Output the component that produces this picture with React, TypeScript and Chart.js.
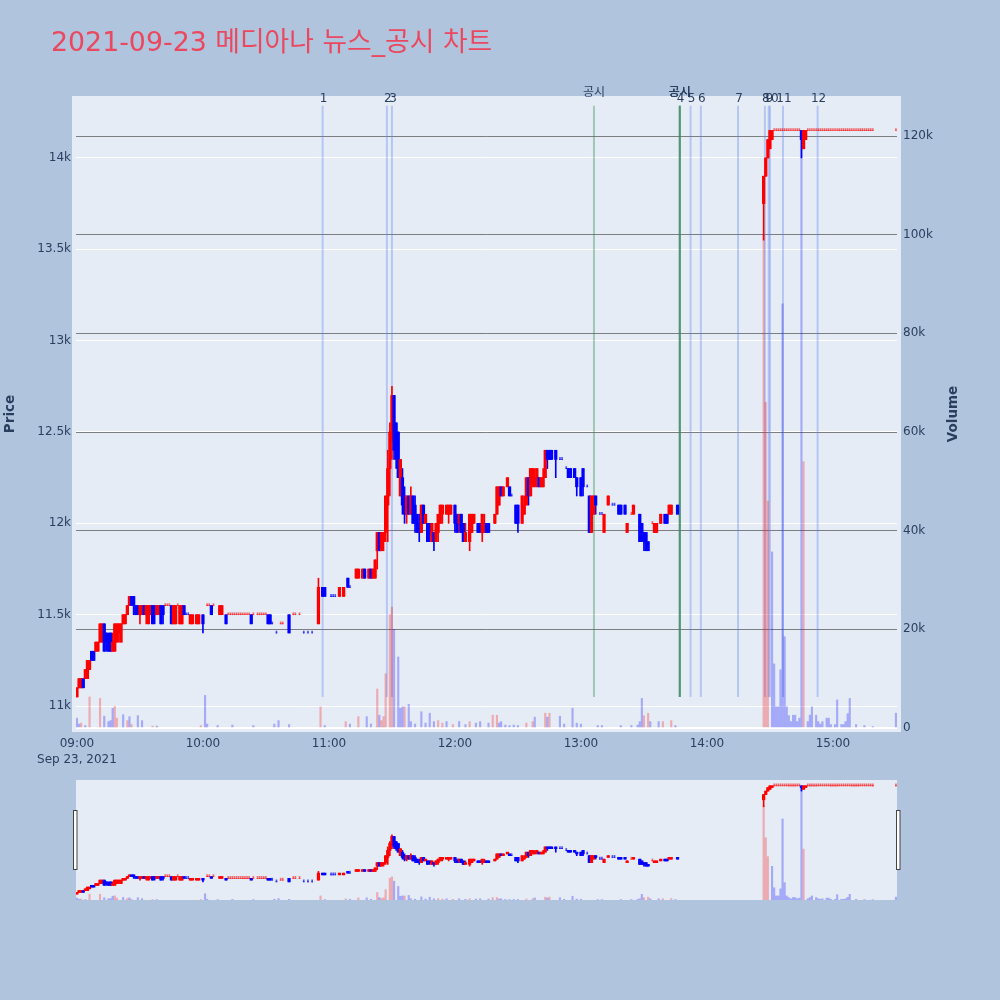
import React, { useEffect, useRef } from 'react';
import { Chart, registerables } from 'chart.js';

Chart.register(...registerables);

const chartTitle = '2021-09-23 메디아나 뉴스_공시 차트';
const dateLabel = 'Sep 23, 2021';

// candles: [minutes after 09:00, open, high, low, close]
const openingCandles = [
  [0, 11050, 11100, 11050, 11100], [1, 11100, 11150, 11100, 11150], [2, 11100, 11150, 11100, 11150],
  [3, 11150, 11150, 11100, 11100], [4, 11150, 11200, 11150, 11200], [5, 11150, 11250, 11150, 11250],
  [6, 11200, 11250, 11200, 11250], [7, 11300, 11300, 11250, 11250], [8, 11300, 11300, 11250, 11250],
  [9, 11300, 11350, 11300, 11350], [10, 11300, 11350, 11300, 11350], [11, 11350, 11450, 11350, 11450],
  [12, 11350, 11450, 11350, 11450], [13, 11450, 11450, 11300, 11300], [14, 11400, 11400, 11300, 11350],
  [15, 11350, 11400, 11300, 11300], [16, 11400, 11400, 11300, 11300], [17, 11300, 11400, 11300, 11350],
  [18, 11300, 11450, 11300, 11450], [19, 11350, 11450, 11350, 11450], [20, 11400, 11450, 11350, 11450],
  [21, 11350, 11450, 11350, 11450], [22, 11450, 11500, 11450, 11500], [23, 11450, 11500, 11450, 11500],
  [24, 11500, 11550, 11500, 11550], [25, 11550, 11600, 11550, 11600], [26, 11600, 11600, 11550, 11550],
  [27, 11600, 11600, 11500, 11550], [28, 11550, 11550, 11500, 11500], [29, 11550, 11550, 11500, 11500],
  [30, 11500, 11550, 11450, 11550], [31, 11500, 11550, 11500, 11550], [32, 11550, 11550, 11500, 11500],
  [33, 11500, 11550, 11450, 11550], [34, 11450, 11550, 11450, 11550], [35, 11500, 11550, 11500, 11550],
  [36, 11550, 11550, 11450, 11450], [37, 11550, 11550, 11450, 11500], [38, 11500, 11550, 11500, 11550],
  [39, 11500, 11550, 11500, 11550], [40, 11550, 11550, 11450, 11450], [41, 11550, 11550, 11450, 11500],
  [42, 11550, 11550, 11550, 11550], [43, 11550, 11550, 11550, 11550], [44, 11550, 11550, 11550, 11550],
  [45, 11550, 11550, 11450, 11450], [46, 11450, 11550, 11450, 11550], [47, 11450, 11550, 11450, 11550],
  [48, 11550, 11550, 11550, 11550], [49, 11450, 11550, 11450, 11550], [50, 11450, 11550, 11450, 11550],
  [51, 11550, 11550, 11500, 11500], [52, 11500, 11500, 11500, 11500], [53, 11500, 11500, 11500, 11500],
  [54, 11450, 11500, 11450, 11500], [55, 11450, 11500, 11450, 11500], [57, 11450, 11500, 11450, 11500],
  [58, 11450, 11500, 11450, 11500], [60, 11500, 11500, 11400, 11450],
];

const lateMorningCandles = [
  [62, 11550, 11550, 11550, 11550], [63, 11550, 11550, 11550, 11550], [64, 11550, 11550, 11500, 11500],
  [65, 11550, 11550, 11550, 11550], [68, 11500, 11550, 11500, 11550], [69, 11500, 11550, 11500, 11550],
  [71, 11500, 11500, 11450, 11450], [72, 11500, 11500, 11500, 11500], [73, 11500, 11500, 11500, 11500],
  [74, 11500, 11500, 11500, 11500], [75, 11500, 11500, 11500, 11500], [76, 11500, 11500, 11500, 11500],
  [77, 11500, 11500, 11500, 11500], [78, 11500, 11500, 11500, 11500], [79, 11500, 11500, 11500, 11500],
  [80, 11500, 11500, 11500, 11500], [81, 11500, 11500, 11500, 11500], [82, 11500, 11500, 11500, 11500],
  [83, 11500, 11500, 11450, 11450], [84, 11500, 11500, 11500, 11500], [86, 11500, 11500, 11500, 11500],
  [87, 11500, 11500, 11500, 11500], [88, 11500, 11500, 11500, 11500], [89, 11500, 11500, 11500, 11500],
  [90, 11500, 11500, 11500, 11500], [91, 11500, 11500, 11450, 11450], [92, 11500, 11500, 11450, 11450],
  [93, 11450, 11450, 11450, 11450], [95, 11400, 11400, 11400, 11400], [97, 11450, 11450, 11450, 11450],
  [98, 11450, 11450, 11450, 11450], [101, 11500, 11500, 11400, 11400], [103, 11500, 11500, 11500, 11500],
  [104, 11500, 11500, 11500, 11500], [106, 11500, 11500, 11500, 11500], [108, 11400, 11400, 11400, 11400],
  [110, 11400, 11400, 11400, 11400], [112, 11400, 11400, 11400, 11400], [115, 11450, 11700, 11450, 11650],
  [117, 11650, 11650, 11600, 11600], [118, 11650, 11650, 11600, 11600], [121, 11600, 11600, 11600, 11600],
  [122, 11600, 11600, 11600, 11600], [123, 11600, 11600, 11600, 11600], [125, 11600, 11650, 11600, 11650],
  [127, 11600, 11650, 11600, 11650], [129, 11700, 11700, 11650, 11650], [130, 11650, 11650, 11650, 11650],
  [133, 11700, 11750, 11700, 11750], [134, 11700, 11750, 11700, 11750], [136, 11700, 11750, 11700, 11750],
  [137, 11750, 11750, 11700, 11700], [139, 11700, 11750, 11700, 11750], [140, 11750, 11750, 11700, 11700],
  [141, 11700, 11750, 11700, 11750], [142, 11700, 11800, 11700, 11800], [143, 11850, 11950, 11750, 11950],
  [144, 11950, 11950, 11850, 11850], [145, 11850, 11950, 11850, 11950], [146, 11900, 11950, 11850, 11950],
  [147, 11950, 12150, 11900, 12150], [148, 12100, 12400, 11900, 12300], [149, 12300, 12550, 12150, 12500],
  [150, 12450, 12750, 12350, 12700], [151, 12700, 12700, 12350, 12400], [152, 12550, 12550, 12300, 12350],
  [153, 12500, 12500, 12250, 12250], [154, 12150, 12350, 12150, 12350], [155, 12250, 12300, 12050, 12100],
  [156, 12150, 12200, 12000, 12050], [157, 12050, 12150, 12000, 12150], [158, 12150, 12150, 12050, 12050],
  [159, 12050, 12200, 12050, 12150], [160, 12150, 12150, 12000, 12000], [161, 12100, 12150, 11950, 12000],
  [162, 12050, 12050, 11950, 11950], [163, 12000, 12050, 11900, 11950],
];

const afternoonCandles = [
  [164, 11950, 12100, 11950, 12100], [165, 12100, 12100, 12000, 12000], [166, 12000, 12050, 12000, 12050],
  [167, 12000, 12000, 11900, 11900], [168, 12000, 12000, 11900, 11950], [169, 11900, 12000, 11900, 12000],
  [170, 11950, 11950, 11850, 11900], [171, 11900, 12000, 11900, 12000], [172, 11950, 12050, 11900, 12050],
  [173, 12000, 12100, 12000, 12100], [174, 12050, 12100, 12000, 12100], [176, 12050, 12100, 12050, 12100],
  [177, 12050, 12100, 12000, 12100], [178, 12050, 12100, 12050, 12100], [180, 12100, 12100, 11950, 12000],
  [181, 12050, 12050, 11950, 11950], [182, 12000, 12050, 11950, 12050], [183, 12050, 12050, 11950, 11950],
  [184, 12000, 12000, 11900, 11900], [185, 11900, 12000, 11900, 11950], [187, 11900, 12050, 11850, 12050],
  [188, 11950, 12050, 11950, 12050], [189, 12000, 12050, 12000, 12050], [191, 12000, 12000, 11950, 11950],
  [192, 12000, 12000, 11950, 11950], [193, 11950, 12050, 11900, 12050], [194, 11950, 12050, 11950, 12000],
  [195, 12000, 12000, 11950, 11950], [196, 12000, 12000, 11950, 11950], [199, 12000, 12050, 12000, 12050],
  [200, 12050, 12200, 12050, 12200], [201, 12100, 12200, 12100, 12200], [202, 12200, 12200, 12150, 12150],
  [203, 12150, 12200, 12150, 12200], [205, 12200, 12250, 12200, 12250], [206, 12200, 12200, 12150, 12150],
  [207, 12150, 12150, 12150, 12150], [209, 12100, 12100, 12000, 12000], [210, 12100, 12100, 11950, 12000],
  [212, 12000, 12150, 12000, 12150], [213, 12050, 12150, 12050, 12100], [214, 12100, 12250, 12100, 12250],
  [215, 12250, 12250, 12100, 12150], [216, 12150, 12300, 12150, 12300], [217, 12200, 12300, 12200, 12300],
  [218, 12200, 12300, 12200, 12250], [219, 12250, 12300, 12200, 12300], [220, 12250, 12250, 12200, 12200],
  [221, 12200, 12250, 12200, 12250], [222, 12200, 12300, 12200, 12250], [223, 12250, 12400, 12250, 12400],
  [224, 12400, 12400, 12300, 12350], [225, 12400, 12400, 12350, 12350], [226, 12400, 12400, 12350, 12350],
  [228, 12400, 12400, 12250, 12350], [230, 12350, 12350, 12350, 12350], [231, 12350, 12350, 12350, 12350],
  [233, 12300, 12300, 12300, 12300], [234, 12300, 12300, 12250, 12250], [235, 12300, 12300, 12250, 12250],
  [237, 12300, 12300, 12250, 12250], [238, 12250, 12250, 12150, 12200], [240, 12250, 12250, 12150, 12150],
  [241, 12300, 12300, 12150, 12200], [243, 12200, 12200, 12200, 12200], [244, 12150, 12150, 11950, 11950],
  [245, 11950, 12150, 11950, 12150], [246, 12050, 12150, 12050, 12150], [247, 12150, 12150, 12050, 12100],
  [249, 12050, 12050, 12050, 12050], [250, 12050, 12050, 12050, 12050], [251, 11950, 12050, 11950, 12050],
  [253, 12100, 12150, 12100, 12150], [255, 12100, 12100, 12100, 12100], [256, 12100, 12100, 12100, 12100],
  [258, 12100, 12100, 12050, 12050], [259, 12100, 12100, 12050, 12050], [261, 12100, 12100, 12050, 12050],
  [262, 11950, 12000, 11950, 12000], [264, 12050, 12050, 12050, 12050], [265, 12050, 12100, 12050, 12100],
  [268, 12050, 12050, 11900, 11900], [269, 12000, 12000, 11900, 11900], [270, 11950, 11950, 11850, 11900],
  [271, 11950, 11950, 11850, 11850], [272, 11900, 11900, 11850, 11850], [274, 12000, 12000, 12000, 12000],
  [275, 11950, 12000, 11950, 12000], [276, 11950, 12000, 11950, 12000], [278, 12000, 12050, 12000, 12050],
  [280, 12050, 12050, 12000, 12000], [281, 12050, 12050, 12000, 12000], [282, 12050, 12100, 12050, 12100],
  [283, 12050, 12100, 12050, 12100], [286, 12100, 12100, 12050, 12050],
];

const limitUpCandles = [
  [327, 13750, 13900, 13550, 13900], [328, 13900, 14000, 13900, 14000], [329, 14000, 14100, 14000, 14100],
  [330, 14050, 14150, 14050, 14150], [331, 14100, 14150, 14100, 14150], [345, 14150, 14150, 14000, 14100],
  [346, 14050, 14150, 14050, 14150], [347, 14100, 14150, 14100, 14150],
];

// one-price trades at the upper limit
const limitPrice = 14150;
const limitDojiMinutes = [
  332, 333, 334, 335, 336, 337, 338, 339, 340, 341, 342, 343, 344,
  348, 349, 350, 351, 352, 353, 354, 355, 356, 357, 358, 359, 360, 361, 362, 363,
  364, 365, 366, 367, 368, 369, 370, 371, 372, 373, 374, 375, 376, 377, 378, 379, 390,
];

// volume: [minutes after 09:00, shares]
const upVolumes = [
  [2, 1000], [6, 6300], [11, 6000], [18, 4400], [19, 2000], [24, 1500], [26, 700], [36, 400], [59, 500],
  [116, 4300], [128, 1300], [134, 2300], [143, 7900], [145, 1500], [146, 2300], [147, 11000], [149, 23000],
  [150, 24500], [156, 4300], [172, 1500], [174, 1000], [179, 700], [187, 1300], [198, 2600], [200, 2600],
  [214, 1000], [217, 1300], [223, 3000], [225, 3000], [270, 2500], [272, 3000], [279, 1300], [283, 1500],
  [327, 100000], [328, 66000], [329, 46000], [346, 54000],
];

const downVolumes = [
  [0, 2000], [1, 800], [4, 500], [13, 2400], [15, 1300], [16, 1500], [17, 4000], [22, 2700], [25, 2300],
  [29, 2500], [31, 1500], [38, 400], [61, 6600], [62, 800], [67, 500], [74, 600], [84, 500], [94, 800],
  [96, 1500], [101, 700], [118, 500], [130, 800], [138, 2300], [140, 800], [144, 2600], [151, 20000],
  [153, 14400], [154, 4000], [155, 4300], [158, 4800], [159, 1300], [161, 800], [164, 3300], [166, 1000],
  [168, 3000], [170, 1300], [176, 1300], [182, 1300], [185, 700], [190, 1000], [192, 1300], [196, 1000],
  [201, 1000], [202, 1300], [204, 600], [206, 500], [208, 600], [210, 500], [218, 2200], [224, 2200],
  [230, 2400], [232, 800], [236, 4000], [238, 1000], [240, 800], [248, 500], [250, 500], [259, 500],
  [264, 500], [267, 600], [268, 1300], [269, 6000], [273, 1300], [277, 1300], [285, 500],
  [331, 35700], [332, 13000], [333, 4300], [334, 4300], [335, 11800], [336, 86000], [337, 18500],
  [338, 4300], [339, 2500], [340, 1300], [341, 2600], [342, 2600], [343, 1300], [344, 2000], [345, 121000],
  [348, 1300], [349, 2600], [350, 4300], [352, 2600], [353, 1300], [354, 800], [355, 1300], [357, 2000],
  [358, 2000], [359, 700], [361, 700], [362, 5700], [364, 700], [365, 700], [366, 1300], [367, 2900],
  [368, 6000], [371, 700], [375, 500], [379, 300], [390, 3000],
];

// news / disclosure times (minutes after 09:00)
const newsMinutes = [117, 147.6, 150, 287, 292.2, 297.1, 314.8, 327.6, 329.4, 330, 336.2, 352.7];
const newsLabels = ['1', '2', '3', '4', '5', '6', '7', '8', '9', '10', '11', '12'];
const disclosureMinutes = [246.2, 287.1, 287.1, 287.1];
const disclosureLabel = '공시';
const newsLineSpan = [11050, 14285];

const hourTicks = [0, 60, 120, 180, 240, 300, 360];
const priceTicks = [11000, 11500, 12000, 12500, 13000, 13500, 14000];
const volumeTicks = [0, 20000, 40000, 60000, 80000, 100000, 120000];

const xRange = [-0.45, 390.5];
const priceRange = [10880, 14317];
const volumeRange = [0, 127300];

const UP = '#ff0000';
const DOWN = '#0000ff';
const TEXT = '#2a3f5f';
const PLOT_BG = '#e5ecf6';
const FONT = "'DejaVu Sans', 'Noto Sans CJK KR', sans-serif";

function buildCandles() {
  const rows = [
    ...openingCandles,
    ...lateMorningCandles,
    ...afternoonCandles,
    ...limitUpCandles,
    ...limitDojiMinutes.map((m) => [m, limitPrice, limitPrice, limitPrice, limitPrice]),
  ].sort((a, b) => a[0] - b[0]);
  let prevClose = NaN;
  let prevUp = true;
  return rows.map(([m, o, h, l, c]) => {
    let up = prevUp;
    if (c > o) up = true;
    else if (c < o) up = false;
    else if (c > prevClose) up = true;
    else if (c < prevClose) up = false;
    prevClose = c;
    prevUp = up;
    return { m, o, h, l, c, up };
  });
}

const candles = buildCandles();

function buildDatasets(): any[] {
  const bodies = candles.filter((k) => k.o !== k.c);
  const dojis = candles.filter((k) => k.o === k.c);
  return [
    {
      label: 'volume up',
      yAxisID: 'yVol',
      data: upVolumes.map(([m, v]) => ({ x: m, y: v })),
      backgroundColor: 'rgba(255, 0, 0, 0.28)',
      barThickness: 1.5,
      grouped: false,
      order: 6,
    },
    {
      label: 'volume down',
      yAxisID: 'yVol',
      data: downVolumes.map(([m, v]) => ({ x: m, y: v })),
      backgroundColor: 'rgba(0, 0, 255, 0.28)',
      barThickness: 1.5,
      grouped: false,
      order: 5,
    },
    {
      label: 'wick',
      yAxisID: 'yPrice',
      data: candles.map((k) => ({ x: k.m, y: [k.l, k.h] })),
      backgroundColor: candles.map((k) => (k.up ? UP : DOWN)),
      barThickness: 1,
      grouped: false,
      order: 3,
    },
    {
      label: 'body',
      yAxisID: 'yPrice',
      data: bodies.map((k) => ({ x: k.m, y: [k.o, k.c] })),
      backgroundColor: bodies.map((k) => (k.up ? UP : DOWN)),
      barThickness: 2.6,
      grouped: false,
      order: 2,
    },
    {
      label: 'doji',
      yAxisID: 'yPrice',
      data: dojis.map((k) => ({ x: k.m, y: [k.o, k.c] })),
      backgroundColor: dojis.map((k) => (k.up ? 'rgba(255,0,0,0.55)' : 'rgba(0,0,255,0.65)')),
      barThickness: 1,
      minBarLength: 2,
      grouped: false,
      order: 1,
    },
  ];
}

function hhmm(v: number) {
  const h = 9 + Math.floor(v / 60);
  const m = v % 60;
  return `${String(h).padStart(2, '0')}:${String(m).padStart(2, '0')}`;
}

function kLabel(v: number) {
  return v === 0 ? '0' : `${v / 1000}k`;
}

const plotBackground = (inset: number) => ({
  id: 'plotBackground',
  beforeDraw(chart: any) {
    const { ctx, chartArea: a } = chart;
    ctx.save();
    ctx.fillStyle = PLOT_BG;
    ctx.fillRect(a.left - inset, a.top - inset, a.right - a.left + inset * 2, a.bottom - a.top + inset * 2);
    ctx.restore();
  },
});

const newsMarkers = {
  id: 'newsMarkers',
  beforeDatasetsDraw(chart: any) {
    const { ctx, scales } = chart;
    const top = scales.yPrice.getPixelForValue(newsLineSpan[1]);
    const bottom = scales.yPrice.getPixelForValue(newsLineSpan[0]);
    ctx.save();
    ctx.lineWidth = 2;
    ctx.strokeStyle = 'rgba(95, 130, 235, 0.35)';
    newsMinutes.forEach((m) => {
      const x = scales.x.getPixelForValue(m);
      ctx.beginPath();
      ctx.moveTo(x, top);
      ctx.lineTo(x, bottom);
      ctx.stroke();
    });
    ctx.strokeStyle = 'rgba(46, 139, 70, 0.38)';
    disclosureMinutes.forEach((m) => {
      const x = scales.x.getPixelForValue(m);
      ctx.beginPath();
      ctx.moveTo(x, top);
      ctx.lineTo(x, bottom);
      ctx.stroke();
    });
    ctx.restore();
  },
  afterDraw(chart: any) {
    const { ctx, scales } = chart;
    const top = scales.yPrice.getPixelForValue(newsLineSpan[1]);
    ctx.save();
    ctx.fillStyle = TEXT;
    ctx.textAlign = 'center';
    ctx.textBaseline = 'alphabetic';
    ctx.font = `12px ${FONT}`;
    newsMinutes.forEach((m, i) => {
      ctx.fillText(newsLabels[i], scales.x.getPixelForValue(m) + 1, top - 4);
    });
    disclosureMinutes.forEach((m) => {
      ctx.fillText(disclosureLabel, scales.x.getPixelForValue(m), top - 10);
    });

    // chart title and axis titles
    ctx.textAlign = 'left';
    ctx.fillStyle = 'rgb(235, 72, 95)';
    ctx.font = `26.8px ${FONT}`;
    ctx.fillText(chartTitle, 51, 50.5);

    ctx.fillStyle = TEXT;
    ctx.font = `bold 13.5px ${FONT}`;
    ctx.textAlign = 'center';
    ctx.textBaseline = 'middle';
    const midY = (chart.chartArea.top + chart.chartArea.bottom) / 2;
    [['Price', 10], ['Volume', 953]].forEach(([text, x]) => {
      ctx.save();
      ctx.translate(x as number, midY);
      ctx.rotate(-Math.PI / 2);
      ctx.fillText(text as string, 0, 0);
      ctx.restore();
    });
    ctx.restore();
  },
};

const sliderHandles = {
  id: 'sliderHandles',
  afterDraw(chart: any) {
    const { ctx, chartArea: a } = chart;
    ctx.save();
    ctx.fillStyle = '#ffffff';
    ctx.strokeStyle = '#444444';
    ctx.lineWidth = 1;
    [a.left - 2.5, a.right - 0.5].forEach((x) => {
      ctx.fillRect(x, a.top + 30.5, 3.5, 59);
      ctx.strokeRect(x, a.top + 30.5, 3.5, 59);
    });
    ctx.restore();
  },
};

export default function App() {
  const mainRef = useRef<HTMLCanvasElement>(null);
  const sliderRef = useRef<HTMLCanvasElement>(null);

  useEffect(() => {
    if (!mainRef.current || !sliderRef.current) return;

    const tickFont = { family: FONT, size: 12 };

    const main = new Chart(mainRef.current, {
      type: 'bar',
      data: { datasets: buildDatasets() },
      options: {
        responsive: false,
        animation: false,
        events: [],
        layout: { padding: { top: 100, left: 0, right: 0, bottom: 0 } },
        plugins: { legend: { display: false }, tooltip: { enabled: false } },
        scales: {
          x: {
            type: 'linear',
            min: xRange[0],
            max: xRange[1],
            offset: false,
            grid: { display: false },
            border: { display: false },
            afterBuildTicks: (s: any) => {
              s.ticks = hourTicks.map((v) => ({ value: v }));
            },
            afterFit: (s: any) => {
              s.height = 42;
            },
            ticks: {
              autoSkip: false,
              maxRotation: 0,
              padding: 0,
              color: TEXT,
              font: { ...tickFont, lineHeight: 1.35 },
              callback: (v: any) => (Number(v) === 0 ? [hhmm(0), dateLabel] : hhmm(Number(v))),
            },
          },
          yPrice: {
            type: 'linear',
            position: 'left',
            min: priceRange[0],
            max: priceRange[1],
            afterBuildTicks: (s: any) => {
              s.ticks = priceTicks.map((v) => ({ value: v }));
            },
            afterFit: (s: any) => {
              s.width = 76;
            },
            grid: { color: '#ffffff', lineWidth: 1, drawTicks: false },
            border: { display: false },
            ticks: { padding: 5, color: TEXT, font: tickFont, callback: (v: any) => kLabel(Number(v)) },
          },
          yVol: {
            type: 'linear',
            position: 'right',
            min: volumeRange[0],
            max: volumeRange[1],
            afterBuildTicks: (s: any) => {
              s.ticks = volumeTicks.map((v) => ({ value: v }));
            },
            afterFit: (s: any) => {
              s.width = 103;
            },
            grid: {
              drawTicks: false,
              color: (c: any) => (c.tick && c.tick.value === 0 ? '#ffffff' : 'rgba(90, 90, 90, 0.75)'),
              lineWidth: (c: any) => (c.tick && c.tick.value === 0 ? 2 : 1),
            },
            border: { display: false },
            ticks: { padding: 6, color: TEXT, font: tickFont, callback: (v: any) => kLabel(Number(v)) },
          },
        },
      } as any,
      plugins: [plotBackground(4), newsMarkers],
    });

    const slider = new Chart(sliderRef.current, {
      type: 'bar',
      data: { datasets: buildDatasets() },
      options: {
        responsive: false,
        animation: false,
        events: [],
        layout: { padding: { top: 10, left: 76, right: 103, bottom: 30 } },
        plugins: { legend: { display: false }, tooltip: { enabled: false } },
        scales: {
          x: { type: 'linear', display: false, min: xRange[0], max: xRange[1], offset: false },
          yPrice: { type: 'linear', display: false, min: priceRange[0], max: priceRange[1] },
          yVol: { type: 'linear', display: false, min: volumeRange[0], max: volumeRange[1] },
        },
      } as any,
      plugins: [plotBackground(0), sliderHandles],
    });

    return () => {
      main.destroy();
      slider.destroy();
    };
  }, []);

  return (
    <div
      style={{
        position: 'absolute',
        left: 0,
        top: 0,
        width: 1000,
        height: 1000,
        background: '#b0c4de',
        overflow: 'hidden',
      }}
    >
      <canvas
        ref={mainRef}
        width={1000}
        height={770}
        style={{ position: 'absolute', left: 0, top: 0, width: 1000, height: 770 }}
      />
      <canvas
        ref={sliderRef}
        width={1000}
        height={160}
        style={{ position: 'absolute', left: 0, top: 770, width: 1000, height: 160 }}
      />
    </div>
  );
}
